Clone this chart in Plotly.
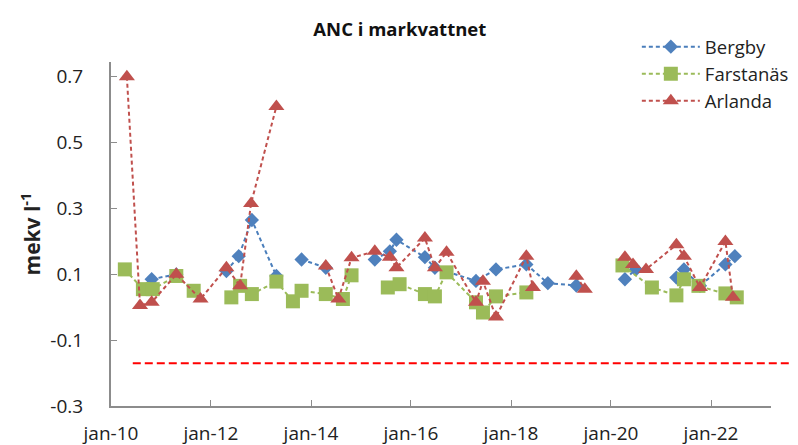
import plotly.graph_objects as go

# Bergby
bergby_dates = ['2010-10-25', '2011-04-23', '2011-10-17', '2012-04-23', '2012-07-22', '2012-10-26',
                '2013-04-23', '2013-08-22', '2013-10-24', '2014-04-19', '2014-10-24', '2015-04-12',
                '2015-07-31', '2015-09-17', '2016-04-12', '2016-06-24', '2017-04-20', '2017-09-13',
                '2018-04-23', '2018-09-27', '2019-04-23', '2019-10-01', '2020-04-12', '2020-07-01',
                '2020-10-01', '2021-04-23', '2021-06-17', '2021-10-12', '2022-04-16', '2022-06-24']
bergby_vals = [0.085, 0.10, None, 0.11, 0.155, 0.265,
               0.095, None, 0.145, 0.12, None, 0.145,
               0.17, 0.205, 0.152, 0.12, 0.08, 0.115,
               0.13, 0.073, 0.066, None, 0.085, 0.115,
               None, 0.09, 0.115, 0.065, 0.13, 0.155]

# Farstanäs
farst_dates = ['2010-04-12', '2010-08-22', '2010-11-02', '2011-04-23', '2011-08-28', '2012-01-01',
               '2012-05-29', '2012-08-01', '2012-10-26', '2013-04-23', '2013-08-22', '2013-10-24',
               '2014-04-19', '2014-08-22', '2014-10-24', '2015-04-12', '2015-07-16', '2015-10-10',
               '2016-04-12', '2016-06-24', '2016-09-17', '2017-04-20', '2017-06-10', '2017-09-13',
               '2018-04-23', '2019-01-01', '2020-03-25', '2020-10-26', '2021-04-23', '2021-06-17',
               '2021-10-01', '2022-04-16', '2022-07-08']
farst_vals = [0.115, 0.055, 0.055, 0.095, 0.05, None,
              0.03, 0.065, 0.04, 0.078, 0.018, 0.05,
              0.04, 0.025, 0.097, None, 0.06, 0.07,
              0.04, 0.033, 0.106, 0.015, -0.016, 0.033,
              0.045, None, 0.127, 0.06, 0.036, 0.085,
              0.065, 0.042, 0.03]

# Arlanda
arl_dates = ['2010-04-27', '2010-08-01', '2010-10-25', '2011-04-23', '2011-10-17', '2012-04-23',
             '2012-08-01', '2012-10-20', '2013-04-23', '2013-10-01', '2014-04-19', '2014-07-20',
             '2014-10-24', '2015-04-12', '2015-07-31', '2015-09-17', '2016-04-12', '2016-06-24',
             '2016-09-17', '2017-04-20', '2017-06-10', '2017-09-13', '2018-04-23', '2018-06-10',
             '2018-09-27', '2019-04-23', '2019-06-24', '2019-10-01', '2020-04-12', '2020-06-10',
             '2020-09-13', '2021-04-23', '2021-06-17', '2021-10-12', '2022-04-16', '2022-06-10']
arl_vals = [0.70, 0.005, 0.015, 0.10, 0.025, 0.12,
            0.065, 0.315, 0.61, None, 0.125, 0.025,
            0.15, 0.17, 0.152, 0.12, 0.21, 0.12,
            0.167, 0.015, 0.079, -0.03, 0.155, 0.06,
            None, 0.094, 0.055, None, 0.152, 0.13,
            0.115, 0.19, 0.155, 0.06, 0.20, 0.03]

threshold = -0.17

x_tick_dates = ['2010-01-01', '2012-01-01', '2014-01-01', '2016-01-01', '2018-01-01', '2020-01-01', '2022-01-01']
x_tick_labels = ['jan-10', 'jan-12', 'jan-14', 'jan-16', 'jan-18', 'jan-20', 'jan-22']
y_tick_vals = [-0.3, -0.1, 0.1, 0.3, 0.5, 0.7]
y_tick_labels = ['-0.3', '-0.1', '0.1', '0.3', '0.5', '0.7']

FONT = 'Open Sans'

fig = go.Figure()

fig.add_trace(go.Scatter(
    x=bergby_dates, y=bergby_vals, name='Bergby', mode='lines+markers',
    line=dict(color='#4A7EBB', width=2, dash='4px,3px'),
    marker=dict(symbol='diamond', size=11, color='#4F81BD'),
    connectgaps=False))
fig.add_trace(go.Scatter(
    x=farst_dates, y=farst_vals, name='Farstanäs', mode='lines+markers',
    line=dict(color='#9BBB59', width=2, dash='4px,3px'),
    marker=dict(symbol='square', size=14, color='#9BBB59'),
    connectgaps=False))
fig.add_trace(go.Scatter(
    x=arl_dates, y=arl_vals, name='Arlanda', mode='lines+markers',
    line=dict(color='#C0504D', width=2, dash='4px,3px'),
    marker=dict(symbol='triangle-up', size=14, color='#C0504D'),
    connectgaps=False))

# red dashed limit line, runs past the end of the x axis like in the original
fig.add_shape(type='line', xref='paper', yref='y', x0=0.033, x1=1.04, y0=threshold, y1=threshold,
              line=dict(color='#FF0000', width=2, dash='8px,4px'))

# page has an 8px body margin, so the figure is 8px smaller than the window
fig.update_layout(
    width=790, height=437,
    margin=dict(l=103, r=27, t=54, b=39, autoexpand=False),
    plot_bgcolor='white', paper_bgcolor='white',
    font=dict(family=FONT, size=18, color='#222'),
    title=dict(text='<b>ANC i markvattnet</b>', x=0.496, xref='container', y=0.95, yref='container',
               xanchor='center', yanchor='middle', font=dict(size=18.5, color='#111')),
    legend=dict(x=0.796, y=0.954, xref='container', yref='container', xanchor='left', yanchor='top',
                bgcolor='rgba(0,0,0,0)', font=dict(size=18.5, color='#222'),
                itemwidth=58, tracegroupgap=0),
    showlegend=True,
)

fig.update_xaxes(
    type='date', range=['2010-01-01', '2023-03-15'], automargin=False,
    tickvals=x_tick_dates, ticktext=x_tick_labels,
    showgrid=False, zeroline=False,
    showline=True, linecolor='#8C8C8C', linewidth=2,
    ticks='inside', ticklen=6, tickcolor='#8C8C8C', tickwidth=1,
    ticklabelstandoff=9, tickfont=dict(size=19, color='#222'))

fig.update_yaxes(
    range=[-0.3, 0.745], automargin=False,
    tickvals=y_tick_vals, ticktext=y_tick_labels,
    showgrid=False, zeroline=False,
    showline=True, linecolor='#8C8C8C', linewidth=2,
    ticks='inside', ticklen=6, tickcolor='#8C8C8C', tickwidth=1,
    ticklabelstandoff=22, tickfont=dict(size=19, color='#222'),
    title=dict(text='<b>mekv l<sup>-1</sup></b>', standoff=4, font=dict(size=21, color='#222')))

fig.write_html('out.html')
